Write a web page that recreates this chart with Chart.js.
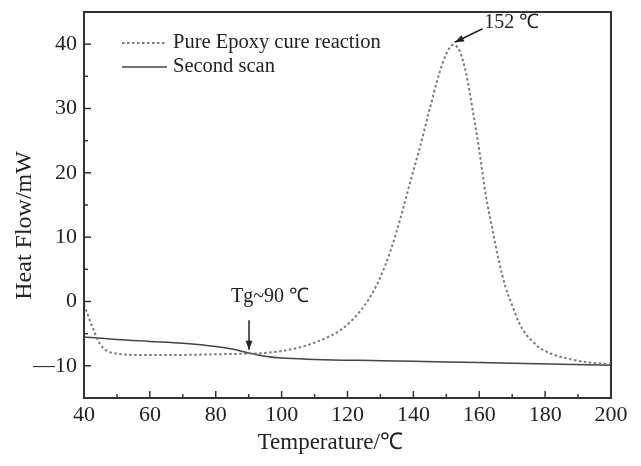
<!DOCTYPE html>
<html>
<head>
<meta charset="utf-8">
<script src="https://cdn.jsdelivr.net/npm/chart.js@4.4.0/dist/chart.umd.min.js"></script>
<style>
  html, body { margin: 0; padding: 0; background: #fff; }
</style>
</head>
<body>
<canvas id="chart-dsc" width="641" height="466"></canvas>
<script>
// Pure epoxy cure reaction (dotted)
const cureTemp = [40, 41, 42, 43, 44, 45, 46, 48, 50, 55, 60, 70, 80, 90, 95, 100, 105, 110, 115, 118, 121, 124, 127, 130, 133, 136, 139, 142, 145, 148, 150, 152, 154, 156, 158, 160, 162, 164, 166, 168, 170, 172, 174, 176, 178, 180, 184, 188, 192, 196, 200];
const cureFlow = [-0.5, -1.8, -3.3, -4.5, -5.8, -6.7, -7.3, -7.9, -8.1, -8.3, -8.3, -8.3, -8.2, -8.1, -8.0, -7.7, -7.2, -6.4, -5.3, -4.4, -3.1, -1.4, 0.8, 3.8, 7.8, 12.8, 18.5, 24.0, 30.0, 35.7, 38.5, 39.9, 39.0, 35.5, 29.8, 23.5, 16.5, 11.2, 6.2, 2.2, -0.6, -3.2, -5.0, -6.1, -7.1, -7.7, -8.5, -9.0, -9.4, -9.6, -9.8];

// Second scan (solid)
const scanTemp = [40, 50, 60, 70, 80, 85, 90, 95, 100, 110, 130, 150, 170, 200];
const scanFlow = [-5.5, -5.9, -6.2, -6.5, -7.0, -7.4, -8.0, -8.5, -8.8, -9.0, -9.2, -9.4, -9.6, -9.9];

const seriesNames = ["Pure Epoxy cure reaction", "Second scan"];

// ticks
const xTicks = [40, 60, 80, 100, 120, 140, 160, 180, 200];
const xMinor = [50, 70, 90, 110, 130, 150, 170, 190];
const yTicks = [-10, 0, 10, 20, 30, 40];
const yTickLabels = ["\u201410", "0", "10", "20", "30", "40"];
const yMinor = [-5, 5, 15, 25, 35];

const FONT = "'Liberation Serif', 'Times New Roman', serif";
const INK = "#222";

function toPoints(xs, ys) {
    return xs.map((x, i) => ({ x: x, y: ys[i] }));
}

// frame + inward ticks
const framePlugin = {
    id: "frame",
    afterDraw(chart) {
        const { ctx, chartArea: a, scales: { x, y } } = chart;
        ctx.save();
        ctx.strokeStyle = "#333";
        ctx.lineWidth = 1.5;
        function seg(x1, y1, x2, y2) {
            ctx.beginPath(); ctx.moveTo(x1, y1); ctx.lineTo(x2, y2); ctx.stroke();
        }
        xTicks.forEach(v => { const p = x.getPixelForValue(v); seg(p, a.bottom, p, a.bottom - 7); });
        xMinor.forEach(v => { const p = x.getPixelForValue(v); seg(p, a.bottom, p, a.bottom - 4); });
        yTicks.forEach(v => { const p = y.getPixelForValue(v); seg(a.left, p, a.left + 7, p); });
        yMinor.forEach(v => { const p = y.getPixelForValue(v); seg(a.left, p, a.left + 4, p); });
        ctx.lineWidth = 2;
        ctx.strokeRect(a.left, a.top, a.right - a.left, a.bottom - a.top);
        ctx.restore();
    }
};

// legend in the top-left corner
const legendPlugin = {
    id: "cornerLegend",
    afterDraw(chart) {
        const { ctx, chartArea: a } = chart;
        ctx.save();
        ctx.font = "20.5px " + FONT;
        ctx.fillStyle = INK;
        ctx.textBaseline = "middle";
        chart.data.datasets.forEach((ds, i) => {
            const yy = a.top + 31 + i * 24;
            ctx.strokeStyle = ds.borderColor;
            ctx.lineWidth = ds.borderWidth;
            ctx.setLineDash(ds.borderDash || []);
            ctx.beginPath();
            ctx.moveTo(a.left + 38, yy);
            ctx.lineTo(a.left + 83, yy);
            ctx.stroke();
            ctx.setLineDash([]);
            ctx.fillText(ds.label, a.left + 89, yy);
        });
        ctx.restore();
    }
};

// peak and Tg notes
function arrow(ctx, x1, y1, x2, y2) {
    const ang = Math.atan2(y2 - y1, x2 - x1);
    ctx.beginPath(); ctx.moveTo(x1, y1); ctx.lineTo(x2, y2); ctx.stroke();
    ctx.beginPath();
    ctx.moveTo(x2, y2);
    ctx.lineTo(x2 - 9 * Math.cos(ang) + 3.5 * Math.sin(ang), y2 - 9 * Math.sin(ang) - 3.5 * Math.cos(ang));
    ctx.lineTo(x2 - 9 * Math.cos(ang) - 3.5 * Math.sin(ang), y2 - 9 * Math.sin(ang) + 3.5 * Math.cos(ang));
    ctx.closePath();
    ctx.fill();
}

const notesPlugin = {
    id: "notes",
    afterDraw(chart) {
        const { ctx, scales: { x, y } } = chart;
        ctx.save();
        ctx.fillStyle = INK;
        ctx.strokeStyle = INK;
        ctx.lineWidth = 1.5;
        ctx.font = "20px " + FONT;
        ctx.textBaseline = "middle";
        ctx.textAlign = "left";
        ctx.fillText("152 \u2103", x.getPixelForValue(161.5), y.getPixelForValue(43.3));
        arrow(ctx, x.getPixelForValue(161.0), y.getPixelForValue(42.4), x.getPixelForValue(152.6), y.getPixelForValue(40.3));
        ctx.textAlign = "center";
        ctx.fillText("Tg~90 \u2103", x.getPixelForValue(96.5), y.getPixelForValue(0.8));
        arrow(ctx, x.getPixelForValue(90.1), y.getPixelForValue(-2.9), x.getPixelForValue(90.1), y.getPixelForValue(-7.5));
        ctx.restore();
    }
};

new Chart(document.getElementById("chart-dsc"), {
    type: "line",
    data: {
        datasets: [{
            label: seriesNames[0],
            data: toPoints(cureTemp, cureFlow),
            borderColor: "#7a7a7a",
            borderWidth: 2,
            borderDash: [2.5, 2.5],
            pointRadius: 0,
            cubicInterpolationMode: "monotone",
            fill: false
        }, {
            label: seriesNames[1],
            data: toPoints(scanTemp, scanFlow),
            borderColor: "#444",
            borderWidth: 1.5,
            pointRadius: 0,
            cubicInterpolationMode: "monotone",
            fill: false
        }]
    },
    options: {
        responsive: false,
        animation: false,
        devicePixelRatio: 1,
        layout: { padding: { left: 0, top: 12, right: 30, bottom: 0 } },
        plugins: { legend: { display: false }, tooltip: { enabled: false } },
        scales: {
            x: {
                type: "linear",
                min: 40, max: 200,
                afterBuildTicks: s => { s.ticks = xTicks.map(v => ({ value: v })); },
                afterFit: s => { s.height = 68; s.paddingLeft = 0; s.paddingRight = 0; },
                grid: { display: false, drawTicks: false },
                border: { display: false },
                ticks: { color: INK, font: { family: FONT, size: 22 }, padding: 4, maxRotation: 0 },
                title: { display: true, text: "Temperature/\u2103\u2002\u2002\u2002", color: INK, font: { family: FONT, size: 23 }, padding: { top: 0, bottom: 9 } }
            },
            y: {
                type: "linear",
                min: -15, max: 45,
                afterBuildTicks: s => { s.ticks = yTicks.map(v => ({ value: v })); },
                afterFit: s => { s.width = 84; s.paddingTop = 0; s.paddingBottom = 0; },
                grid: { display: false, drawTicks: false },
                border: { display: false },
                ticks: {
                    color: INK, font: { family: FONT, size: 22 }, padding: 7,
                    callback: v => yTickLabels[yTicks.indexOf(v)]
                },
                title: { display: true, text: "Heat Flow/mW\u2002\u2002\u2002\u2009", color: INK, font: { family: FONT, size: 24 }, padding: { top: 10, bottom: 0 } }
            }
        }
    },
    plugins: [framePlugin, legendPlugin, notesPlugin]
});
</script>
</body>
</html>
